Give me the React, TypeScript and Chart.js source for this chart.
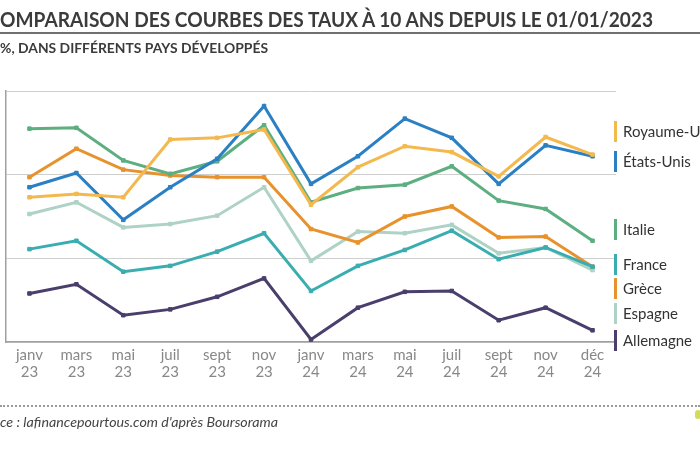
import React, { useEffect, useLayoutEffect, useRef } from "react";
import { Chart, registerables } from "chart.js";
Chart.register(...registerables);

const months = ["janv", "mars", "mai", "juil", "sept", "nov", "janv", "mars", "mai", "juil", "sept", "nov", "déc"];
const years = ["23", "23", "23", "23", "23", "23", "24", "24", "24", "24", "24", "24", "24"];

const royaumeUni = [3.73, 3.77, 3.73, 4.42, 4.44, 4.54, 3.64, 4.09, 4.34, 4.27, 3.98, 4.45, 4.24];
const etatsUnis = [3.85, 4.02, 3.46, 3.85, 4.19, 4.82, 3.89, 4.22, 4.67, 4.44, 3.89, 4.35, 4.22];
const italie = [4.55, 4.56, 4.17, 4.01, 4.16, 4.59, 3.67, 3.84, 3.88, 4.1, 3.69, 3.59, 3.21];
const france = [3.11, 3.21, 2.84, 2.91, 3.08, 3.3, 2.61, 2.91, 3.1, 3.33, 2.99, 3.13, 2.9];
const grece = [3.97, 4.31, 4.06, 3.99, 3.97, 3.97, 3.35, 3.19, 3.5, 3.62, 3.25, 3.26, 2.9];
const espagne = [3.53, 3.67, 3.37, 3.41, 3.51, 3.85, 2.97, 3.32, 3.3, 3.4, 3.06, 3.13, 2.86];
const allemagne = [2.58, 2.69, 2.32, 2.39, 2.54, 2.76, 2.03, 2.41, 2.6, 2.61, 2.26, 2.41, 2.14];

const yMin = 2;
const yMax = 5;
const yStep = 1;

const series = [
  { name: "Royaume-Uni", data: royaumeUni, color: "#F4B94E" },
  { name: "États-Unis", data: etatsUnis, color: "#2B80C3" },
  { name: "Italie", data: italie, color: "#5DAE80" },
  { name: "France", data: france, color: "#3AADB0" },
  { name: "Grèce", data: grece, color: "#E8922E" },
  { name: "Espagne", data: espagne, color: "#AED3C6" },
  { name: "Allemagne", data: allemagne, color: "#4A3F6C" },
];

// legend layout (vertical centre of each entry, px)
const legendY = [131, 161, 229, 264, 288, 313, 340];

const FONT = "Lato, 'Open Sans', sans-serif";

function FitText({ text, width, style }: { text: string; width: number; style: React.CSSProperties }) {
  const ref = useRef<HTMLSpanElement>(null);
  useLayoutEffect(() => {
    const el = ref.current;
    if (!el) return;
    el.style.transform = "none";
    const w = el.getBoundingClientRect().width;
    if (w > 0) el.style.transform = `scaleX(${width / w})`;
  }, [text, width]);
  return (
    <span ref={ref} style={{ ...style, display: "inline-block", whiteSpace: "nowrap", transformOrigin: "left center" }}>
      {text}
    </span>
  );
}

export default function App() {
  const canvasRef = useRef<HTMLCanvasElement>(null);

  useEffect(() => {
    const canvas = canvasRef.current;
    if (!canvas) return;
    const chart = new Chart(canvas, {
      type: "line",
      data: {
        labels: months.map((m, i) => [m, years[i]]),
        datasets: series.map((s) => ({
          label: s.name,
          data: s.data,
          borderColor: s.color,
          backgroundColor: s.color,
          pointBackgroundColor: s.color,
          pointBorderColor: s.color,
          borderWidth: 3,
          pointStyle: "rect",
          pointRadius: 2.5,
          pointBorderWidth: 1,
          tension: 0,
          fill: false,
        })),
      },
      options: {
        responsive: false,
        animation: false,
        layout: { padding: { left: 6, right: 84, top: 91, bottom: 0 } },
        plugins: { legend: { display: false }, tooltip: { enabled: false }, title: { display: false } },
        scales: {
          x: {
            type: "category",
            offset: true,
            grid: { display: false, drawTicks: false },
            border: { display: true, color: "#a0a0a0", width: 1.5 },
            ticks: {
              color: "#888888",
              font: { family: FONT, size: 15, lineHeight: 1.13 },
              padding: 5,
              maxRotation: 0,
              autoSkip: false,
            },
            afterFit: (s: any) => {
              s.height = 108;
            },
          },
          y: {
            min: yMin,
            max: yMax,
            ticks: { display: false, stepSize: yStep },
            grid: { color: "#cfcfcf", drawTicks: false, lineWidth: 1 },
            border: { display: true, color: "#a0a0a0", width: 1.5 },
            afterFit: (s: any) => {
              s.width = 0;
            },
          },
        },
      },
    });
    return () => chart.destroy();
  }, []);

  return (
    <div style={{ position: "absolute", left: 0, top: 0, width: 700, height: 450, overflow: "hidden", background: "#fff" }}>
      <canvas ref={canvasRef} width={700} height={450} style={{ position: "absolute", left: 0, top: 0, width: 700, height: 450 }} />
      <div style={{ position: "absolute", left: 0, top: 5, height: 28, lineHeight: "28px" }}>
        <FitText
          text="OMPARAISON DES COURBES DES TAUX À 10 ANS DEPUIS LE 01/01/2023"
          width={653}
          style={{ fontFamily: FONT, fontWeight: 700, fontSize: 20, color: "#3b3b3b" }}
        />
      </div>
      <div style={{ position: "absolute", left: 0, top: 32, width: 700, height: 2, background: "#707070" }} />
      <div style={{ position: "absolute", left: 0, top: 39, height: 18, lineHeight: "18px" }}>
        <FitText
          text="%, DANS DIFFÉRENTS PAYS DÉVELOPPÉS"
          width={268}
          style={{ fontFamily: FONT, fontWeight: 700, fontSize: 14, color: "#3b3b3b" }}
        />
      </div>
      {series.map((s, i) => (
        <React.Fragment key={s.name}>
          <div
            style={{
              position: "absolute",
              left: 614,
              top: legendY[i] - 10.5,
              width: 3,
              height: 21,
              background: s.color,
            }}
          />
          <div
            style={{
              position: "absolute",
              left: 623,
              top: legendY[i] - 10,
              height: 20,
              lineHeight: "20px",
              fontFamily: FONT,
              fontSize: 15,
              color: "#333",
              whiteSpace: "nowrap",
            }}
          >
            {s.name}
          </div>
        </React.Fragment>
      ))}
      <div style={{ position: "absolute", left: 0, top: 405, width: 700, height: 0, borderTop: "2px dotted #9a9a9a" }} />
      <div style={{ position: "absolute", left: 0, top: 413, height: 18, lineHeight: "18px" }}>
        <FitText
          text="ce : lafinancepourtous.com d'après Boursorama"
          width={278}
          style={{ fontFamily: FONT, fontStyle: "italic", fontSize: 13, color: "#444" }}
        />
      </div>
      <div style={{ position: "absolute", left: 695, top: 410, width: 6, height: 9, borderRadius: 3, background: "#d3dc5a" }} />
    </div>
  );
}
